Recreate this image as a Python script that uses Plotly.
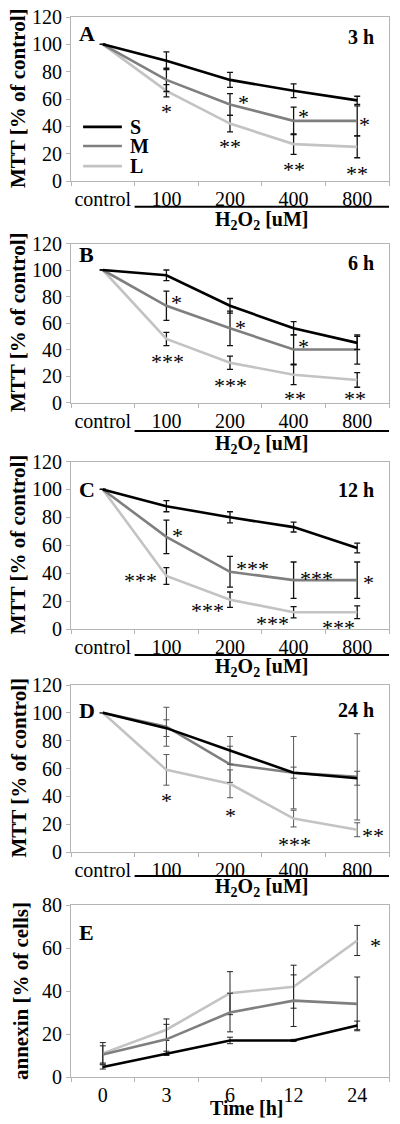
import plotly.graph_objects as go

# ---------------- data ----------------
dose_labels = ["control", "100", "200", "400", "800"]
time_labels = ["0", "3", "6", "12", "24"]

# Panel A (3 h)
a_S = [100, 88, 74, 66, 59]
a_S_err = [0, 6.5, 5.5, 5, 3]
a_M = [100, 74, 56, 44, 44]
a_M_err = [0, 8.5, 8, 10, 11]
a_L = [100, 66, 42, 27, 25]
a_L_err = [0, 4.5, 6, 7.5, 8]

# Panel B (6 h)
b_S = [100, 96, 73, 56, 45]
b_S_err = [0, 4, 5.5, 5, 5]
b_M = [100, 73, 56, 40, 40]
b_M_err = [0, 11, 13, 11, 11]
b_L = [100, 48, 30, 21, 17]
b_L_err = [0, 5, 5, 7.5, 5.5]

# Panel C (12 h)
c_S = [100, 88, 80, 73, 58]
c_S_err = [0, 4, 4, 3.5, 3.5]
c_M = [100, 66, 41, 35, 35]
c_M_err = [0, 12, 11, 13, 13]
c_L = [100, 38, 21, 12, 12]
c_L_err = [0, 6, 5.5, 4, 4.5]

# Panel D (24 h)
d_S = [100, 89, 73, 57, 53]
d_S_err = [0, 6, 10, 4, 5]
d_M = [100, 90, 63, 57, 54]
d_M_err = [0, 14, 13, 26, 31]
d_L = [100, 59, 49, 24, 16]
d_L_err = [0, 11, 10, 6, 5]

# Panel E (annexin)
e_S = [4.7, 11, 17, 17, 24]
e_S_err = [1, 1, 1.5, 0.5, 2]
e_M = [10.5, 17.5, 30, 35.5, 34]
e_M_err = [4, 7, 9, 12, 12.5]
e_L = [11, 22, 39, 42, 63.5]
e_L_err = [5, 5, 10, 10, 7]

# significance marks: (x position as category index, y value, text)
stars_A = [(1.0, 54, "*"), (2.21, 60, "*"), (2.0, 28, "**"), (3.15, 50, "*"),
           (3.0, 11, "**"), (4.12, 44, "*"), (4.0, 8.5, "**")]
stars_B = [(1.16, 78.5, "*"), (1.02, 34, "***"), (2.16, 60, "*"), (2.0, 15.6, "***"),
           (3.16, 45, "*"), (3.02, 5.7, "**"), (3.96, 5.7, "**")]
stars_C = [(1.17, 70, "*"), (0.6, 37.5, "***"), (2.36, 46, "***"), (1.65, 16, "***"),
           (3.36, 39.4, "***"), (2.67, 7, "***"), (4.17, 36, "*"), (3.7, 4, "***")]
stars_D = [(1.0, 39.6, "*"), (2.0, 29, "*"), (3.02, 8.4, "***"), (4.25, 14.4, "**")]
stars_E = [(4.28, 63, "*")]

panel_letters = ["A", "B", "C", "D", "E"]
panel_times = ["3 h", "6 h", "12 h", "24 h", None]
series_names = ["S", "M", "L"]
y_titles = ["MTT [% of control]"] * 4 + ["annexin [% of cells]"]

# ---------------- styling ----------------
FONT = "Liberation Serif"
COL = {"S": "#000000", "M": "#7f7f7f", "L": "#c3c3c3"}
AXCOL = "#b4b4b4"
W, H = 400, 1124

# pixel layout of plot areas (top, bottom)
px_rows = [(17, 181), (243.5, 402.5), (461.5, 629), (685, 852), (905, 1077)]
x_dom = [71 / W, 389 / W]

panels = [
    (dose_labels, [(a_S, a_S_err), (a_M, a_M_err), (a_L, a_L_err)], stars_A, 120),
    (dose_labels, [(b_S, b_S_err), (b_M, b_M_err), (b_L, b_L_err)], stars_B, 120),
    (dose_labels, [(c_S, c_S_err), (c_M, c_M_err), (c_L, c_L_err)], stars_C, 120),
    (dose_labels, [(d_S, d_S_err), (d_M, d_M_err), (d_L, d_L_err)], stars_D, 120),
    (time_labels, [(e_S, e_S_err), (e_M, e_M_err), (e_L, e_L_err)], stars_E, 80),
]

letter_y = [0.90, 0.93, 0.83, 0.85, 0.84]
time_y = [0.88, 0.877, 0.83, 0.85, None]
uline_y = [-0.157, -0.18, -0.155, -0.144]
h2o2_y = [-0.238, -0.265, -0.228, -0.21]
ytitle_x = [18, 18, 18, 18, 21]
errcol = ["#111111", "#111111", "#111111", "#555555", "#222222"]
errthk = [1.3, 1.3, 1.3, 1.0, 1.0]

fig = go.Figure()
annotations = []
shapes = []
layout = {}

for i, (cats, series, stars, ymax) in enumerate(panels):
    n = "" if i == 0 else str(i + 1)
    xa, ya = "x" + n, "y" + n
    top, bot = px_rows[i]
    # draw L, M, S so that S is on top
    for name, (vals, errs) in reversed(list(zip(series_names, series))):
        fig.add_trace(go.Scatter(
            x=cats, y=vals, mode="lines", name=name, showlegend=False,
            line=dict(color=COL[name], width=2.6),
            error_y=dict(type="data", array=errs, visible=True,
                         color=errcol[i], thickness=errthk[i], width=3),
            xaxis=xa, yaxis=ya,
        ))
    layout["xaxis" + n] = dict(
        domain=x_dom, anchor=ya, type="category", range=[-0.5, 4.5],
        showline=True, linecolor=AXCOL, linewidth=1, mirror=True,
        ticks="outside", tickson="boundaries", ticklen=4, tickcolor=AXCOL,
        showgrid=False, zeroline=False, tickangle=0, automargin=False,
        tickfont=dict(family=FONT, size=20, color="#000"),
    )
    layout["yaxis" + n] = dict(
        domain=[1 - bot / H, 1 - top / H], anchor=xa, range=[0, ymax],
        dtick=20, showline=True, linecolor=AXCOL, linewidth=1, mirror=True,
        ticks="outside", ticklen=4, tickcolor=AXCOL, automargin=False,
        showgrid=False, zeroline=False,
        tickfont=dict(family=FONT, size=20, color="#000"),
    )
    xd, yd = xa + " domain", ya + " domain"
    # y-axis title
    annotations.append(dict(text="<b>%s</b>" % y_titles[i], x=ytitle_x[i] / W, y=0.5,
                            xref="paper", yref=yd, xanchor="center", yanchor="middle",
                            textangle=-90, showarrow=False,
                            font=dict(family=FONT, size=21, color="#000")))
    # panel letter
    annotations.append(dict(text="<b>%s</b>" % panel_letters[i], x=0.02, y=letter_y[i],
                            xref=xd, yref=yd, xanchor="left", yanchor="middle",
                            showarrow=False, font=dict(family=FONT, size=22, color="#000")))
    if panel_times[i]:
        annotations.append(dict(text="<b>%s</b>" % panel_times[i], x=0.96, y=time_y[i],
                                xref=xd, yref=yd, xanchor="right", yanchor="middle",
                                showarrow=False, font=dict(family=FONT, size=20, color="#000")))
    # stars
    for sx, sy, st in stars:
        annotations.append(dict(text=st, x=sx, y=sy, xref=xa, yref=ya,
                                xanchor="center", yanchor="middle", yshift=-4,
                                showarrow=False, font=dict(family=FONT, size=22, color="#000")))
    if i < 4:
        shapes.append(dict(type="line", xref=xa, yref=yd, x0=0.5, x1=4.5,
                           y0=uline_y[i], y1=uline_y[i],
                           line=dict(color="#000", width=2)))
        annotations.append(dict(text="<b>H<sub>2</sub>O<sub>2</sub> [uM]</b>", x=2.5, y=h2o2_y[i],
                                xref=xa, yref=yd, xanchor="center", yanchor="middle",
                                showarrow=False, font=dict(family=FONT, size=20, color="#000")))
    else:
        annotations.append(dict(text="<b>Time [h]</b>", x=2.27, y=-0.18,
                                xref=xa, yref=yd, xanchor="center", yanchor="middle",
                                showarrow=False, font=dict(family=FONT, size=20, color="#000")))

# manual legend inside panel A
leg_y = [0.33, 0.213, 0.091]
for name, ly in zip(series_names, leg_y):
    shapes.append(dict(type="line", xref="x domain", yref="y domain",
                       x0=0.038, x1=0.16, y0=ly, y1=ly,
                       line=dict(color=COL[name], width=2.6)))
    annotations.append(dict(text="<b>%s</b>" % name, x=0.18, y=ly, xref="x domain", yref="y domain",
                            xanchor="left", yanchor="middle", showarrow=False,
                            font=dict(family=FONT, size=20, color="#000")))

fig.update_layout(
    width=W, height=H, margin=dict(l=0, r=0, t=0, b=0, autoexpand=False),
    paper_bgcolor="white", plot_bgcolor="white",
    showlegend=False, annotations=annotations, shapes=shapes,
    font=dict(family=FONT, color="#000"),
    **layout,
)

fig.write_html("out.html", config={"displayModeBar": False},
               post_script="document.body.style.margin='0px';")
